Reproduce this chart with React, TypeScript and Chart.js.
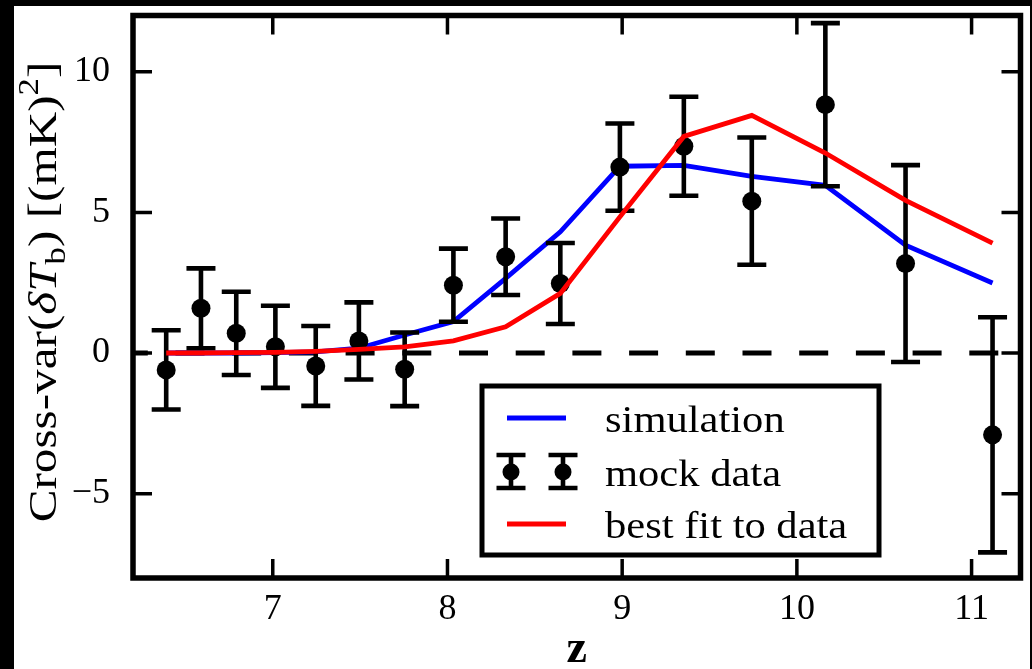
import { useEffect, useRef } from "react";
import { Chart, registerables } from "chart.js";

Chart.register(...registerables);

// Redshift of each mock measurement
const redshift = [6.39, 6.589, 6.791, 7.015, 7.246, 7.493, 7.755, 8.034, 8.333, 8.646, 8.987, 9.353, 9.742, 10.163, 10.622, 11.12];
// Mock cross-variance data and its 1-sigma errors, (mK)^2
const mockValues = [-0.6, 1.59, 0.7, 0.22, -0.46, 0.43, -0.58, 2.41, 3.42, 2.47, 6.61, 7.35, 5.4, 8.83, 3.18, -2.91];
const mockErrors = [1.41, 1.42, 1.48, 1.46, 1.42, 1.37, 1.31, 1.3, 1.36, 1.44, 1.55, 1.76, 2.26, 2.9, 3.5, 4.18];
// Model curves evaluated at the same redshifts
const simulation = [0.0, 0.0, 0.0, 0.01, 0.04, 0.17, 0.64, 1.12, 2.65, 4.31, 6.64, 6.67, 6.28, 5.96, 3.83, 2.49];
const bestFit = [0.0, 0.0, 0.01, 0.02, 0.06, 0.13, 0.22, 0.43, 0.93, 2.12, 4.84, 7.7, 8.45, 7.11, 5.43, 3.91];

const xTicks = [7, 8, 9, 10, 11];
const yTicks = [-5, 0, 5, 10];
const zRange = [6.2, 11.28];
const yRange = [-8, 12];
const zeroLevel = [0, 0];

const legendLabels = ["simulation", "mock data", "best fit to data"];
const xTitle = "z";

const SERIF = "'Liberation Serif', 'DejaVu Serif', serif";
const BLUE = "#0000ff";
const RED = "#ff0000";
const MOCK_INDEX = 1;

type Piece = { t: string; italic?: boolean; scale?: number; shift?: number };
const yTitle: Piece[] = [
  { t: "Cross-var(" },
  { t: "\u03B4T", italic: true },
  { t: "b", scale: 0.7, shift: 0.22 },
  { t: ") [(mK)" },
  { t: "2", scale: 0.7, shift: -0.45 },
  { t: "]" },
];

function drawPieces(ctx: CanvasRenderingContext2D, pieces: Piece[], size: number) {
  const fontOf = (p: Piece) =>
    `${p.italic ? "italic " : ""}${Math.round(size * (p.scale ?? 1))}px ${SERIF}`;
  let total = 0;
  const widths = pieces.map((p) => {
    ctx.font = fontOf(p);
    const w = ctx.measureText(p.t).width;
    total += w;
    return w;
  });
  let x = -total / 2;
  ctx.textAlign = "left";
  ctx.textBaseline = "alphabetic";
  pieces.forEach((p, i) => {
    ctx.font = fontOf(p);
    ctx.fillText(p.t, x, (p.shift ?? 0) * size);
    x += widths[i];
  });
}

function stretchedText(ctx: CanvasRenderingContext2D, text: string, x: number, y: number, stretch: number) {
  ctx.save();
  ctx.translate(x, y);
  ctx.scale(stretch, 1);
  ctx.fillText(text, 0, 0);
  ctx.restore();
}

function drawErrorMarker(ctx: CanvasRenderingContext2D, x: number, top: number, bottom: number, cy: number, r: number, capHalf: number) {
  ctx.strokeStyle = "#000";
  ctx.fillStyle = "#000";
  ctx.lineWidth = 4.6;
  ctx.lineCap = "butt";
  ctx.beginPath();
  ctx.moveTo(x, top);
  ctx.lineTo(x, bottom);
  ctx.moveTo(x - capHalf, top);
  ctx.lineTo(x + capHalf, top);
  ctx.moveTo(x - capHalf, bottom);
  ctx.lineTo(x + capHalf, bottom);
  ctx.stroke();
  if (r > 0) {
    ctx.beginPath();
    ctx.arc(x, cy, r, 0, Math.PI * 2);
    ctx.fill();
  }
}

const decorations = {
  id: "decorations",
  beforeDatasetDraw(chart: any, args: any) {
    if (args.index !== MOCK_INDEX) return;
    const { ctx, scales } = chart;
    const xs = scales.x;
    const ys = scales.y;
    ctx.save();
    redshift.forEach((z, i) => {
      const px = xs.getPixelForValue(z);
      const top = ys.getPixelForValue(mockValues[i] + mockErrors[i]);
      const bottom = ys.getPixelForValue(mockValues[i] - mockErrors[i]);
      drawErrorMarker(ctx, px, top, bottom, 0, 0, 14.5);
    });
    ctx.restore();
  },
  afterDraw(chart: any) {
    const { ctx, chartArea, scales } = chart;
    const { left, right, top, bottom } = chartArea;
    ctx.save();

    // ticks on all four sides, pointing inwards
    ctx.strokeStyle = "#000";
    ctx.lineWidth = 3.5;
    ctx.beginPath();
    xTicks.forEach((v) => {
      const px = scales.x.getPixelForValue(v);
      ctx.moveTo(px, bottom);
      ctx.lineTo(px, bottom - 19);
      ctx.moveTo(px, top);
      ctx.lineTo(px, top + 19);
    });
    yTicks.forEach((v) => {
      const py = scales.y.getPixelForValue(v);
      ctx.moveTo(left, py);
      ctx.lineTo(left + 19, py);
      ctx.moveTo(right, py);
      ctx.lineTo(right - 19, py);
    });
    ctx.stroke();

    // axes frame
    ctx.lineWidth = 5.5;
    ctx.strokeRect(left, top, right - left, bottom - top);

    // legend
    const bx = 468, by = 380, bw = 397, bh = 169;
    ctx.fillStyle = "#fff";
    ctx.fillRect(bx, by, bw, bh);
    ctx.lineWidth = 5;
    ctx.strokeRect(bx, by, bw, bh);

    ctx.lineWidth = 5;
    ctx.strokeStyle = BLUE;
    ctx.beginPath();
    ctx.moveTo(493, 412);
    ctx.lineTo(552, 412);
    ctx.stroke();
    ctx.strokeStyle = RED;
    ctx.beginPath();
    ctx.moveTo(493, 518);
    ctx.lineTo(552, 518);
    ctx.stroke();
    drawErrorMarker(ctx, 497, 449, 482, 466, 8.5, 14.5);
    drawErrorMarker(ctx, 549, 449, 482, 466, 8.5, 14.5);

    ctx.fillStyle = "#000";
    ctx.font = `37px ${SERIF}`;
    ctx.textAlign = "left";
    ctx.textBaseline = "alphabetic";
    stretchedText(ctx, legendLabels[0], 591, 426, 1.15);
    stretchedText(ctx, legendLabels[1], 591, 480, 1.15);
    stretchedText(ctx, legendLabels[2], 591, 532, 1.15);

    // x axis title
    ctx.font = `bold 46px ${SERIF}`;
    ctx.textAlign = "center";
    ctx.fillText(xTitle, (left + right) / 2, 656);

    // y axis title
    ctx.save();
    ctx.translate(42, 286);
    ctx.rotate(-Math.PI / 2);
    ctx.scale(1.2, 1);
    drawPieces(ctx, yTitle, 41);
    ctx.restore();

    ctx.restore();
  },
};

export default function App() {
  const canvasRef = useRef<HTMLCanvasElement | null>(null);

  useEffect(() => {
    const canvas = canvasRef.current;
    if (!canvas) return;
    const pts = (ys: number[]) => redshift.map((z, i) => ({ x: z, y: ys[i] }));
    const chart = new Chart(canvas, {
      type: "scatter",
      data: {
        datasets: [
          {
            label: legendLabels[2],
            type: "line",
            data: pts(bestFit),
            borderColor: RED,
            borderWidth: 4.8,
            pointRadius: 0,
            showLine: true,
            tension: 0,
            order: 0,
          } as any,
          {
            label: legendLabels[1],
            data: pts(mockValues),
            backgroundColor: "#000",
            borderColor: "#000",
            borderWidth: 0,
            pointRadius: 9.5,
            pointHoverRadius: 9.5,
            order: 1,
          },
          {
            label: legendLabels[0],
            type: "line",
            data: pts(simulation),
            borderColor: BLUE,
            borderWidth: 4.8,
            pointRadius: 0,
            showLine: true,
            tension: 0,
            order: 2,
          } as any,
          {
            label: "zero",
            type: "line",
            data: zRange.map((z, i) => ({ x: z, y: zeroLevel[i] })),
            borderColor: "#000",
            borderWidth: 5,
            borderDash: [29, 27.7],
            borderDashOffset: 14.2,
            pointRadius: 0,
            showLine: true,
            order: 3,
          } as any,
        ],
      },
      options: {
        animation: false,
        responsive: false,
        devicePixelRatio: 1,
        layout: { padding: { top: 8.7, right: 3, left: 0, bottom: 0 } },
        plugins: { legend: { display: false }, tooltip: { enabled: false } },
        events: [],
        scales: {
          x: {
            type: "linear",
            min: zRange[0],
            max: zRange[1],
            grid: { display: false, drawTicks: false },
            border: { display: false },
            afterBuildTicks: (s: any) => {
              s.ticks = xTicks.map((v) => ({ value: v }));
            },
            afterFit: (s: any) => {
              s.height = 91;
              s.paddingLeft = 0;
              s.paddingRight = 0;
            },
            ticks: {
              font: { family: SERIF, size: 36 },
              color: "#000",
              padding: 10,
              maxRotation: 0,
            },
          },
          y: {
            type: "linear",
            min: yRange[0],
            max: yRange[1],
            grid: { display: false, drawTicks: false },
            border: { display: false },
            afterBuildTicks: (s: any) => {
              s.ticks = yTicks.map((v) => ({ value: v }));
            },
            afterFit: (s: any) => {
              s.width = 119;
              s.paddingTop = 0;
              s.paddingBottom = 0;
            },
            ticks: {
              font: { family: SERIF, size: 36 },
              color: "#000",
              padding: 23,
              callback: (v: any) => (Number(v) < 0 ? "\u2212" + Math.abs(Number(v)) : String(v)),
            },
          },
        },
      },
      plugins: [decorations],
    });
    return () => chart.destroy();
  }, []);

  return (
    <div style={{ position: "fixed", left: 0, top: 0, width: 1032, height: 669, background: "#000" }}>
      <div style={{ position: "absolute", left: 14, top: 6, width: 1016, height: 663, background: "#fff" }}>
        <canvas ref={canvasRef} width={1016} height={663} style={{ display: "block" }} />
      </div>
    </div>
  );
}
